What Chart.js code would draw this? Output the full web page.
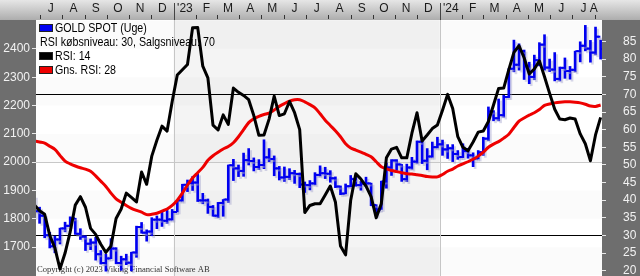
<!DOCTYPE html>
<html>
<head>
<meta charset="utf-8">
<script src="https://cdn.jsdelivr.net/npm/chart.js@4.4.1/dist/chart.umd.min.js"></script>
<style>
html, body { margin: 0; padding: 0; background: #fff; }
canvas { display: block; }
</style>
</head>
<body>
<canvas id="goldChart" width="640" height="276"></canvas>
<script>
// ugentlige guldpriser (USD), uge 24. jun 2022 .. 9. aug 2024
const weekOpen = [1860,1827,1811,1742,1703,1727,1766,1775,1802,1747, 1737,1712,1716,1675,1644,1660,1695,1644,1657,1645,
  1681,1771,1751,1755,1797,1797,1793,1798,1824,1865, 1920,1926,1928,1865,1865,1842,1811,1856,1868,1989,
  1978,1969,2007,2004,1983,1990,2017,2011,1978,1946, 1948,1961,1958,1921,1919,1925,1955,1961,1959,1943,
  1914,1889,1915,1940,1919,1924,1925,1849,1833,1932, 1981,2006,1992,1940,1981,2002,2072,2005,2020,2053,
  2063,2045,2049,2029,2018,2039,2024,2013,2035,2083, 2179,2155,2166,2230,2330,2344,2392,2338,2301,2360,
  2415,2334,2327,2294,2333,2322,2326,2392,2411,2401, 2387,2443];
const weekHigh = [1880,1841,1814,1752,1739,1767,1788,1807,1802,1765, 1740,1729,1735,1688,1675,1730,1698,1668,1675,1682,
  1774,1787,1761,1804,1810,1825,1833,1833,1865,1922, 1937,1949,1959,1890,1870,1847,1858,1868,1990,2010,
  1990,2032,2048,2015,2009,2079,2048,2022,1985,1983, 1977,1971,1962,1930,1935,1963,1987,1982,1970,1948,
  1916,1923,1953,1952,1932,1947,1926,1850,1933,1997, 2009,2009,1992,1993,2017,2075,2080,2048,2071,2088,
  2078,2062,2062,2041,2065,2049,2033,2041,2088,2195, 2182,2223,2236,2330,2431,2418,2396,2353,2378,2422,
  2450,2364,2387,2336,2368,2338,2392,2425,2483,2430, 2477,2431];
const weekLow = [1805,1784,1733,1697,1680,1711,1754,1773,1745,1727, 1688,1691,1654,1640,1615,1659,1641,1618,1638,1616,
  1664,1749,1721,1740,1765,1773,1784,1795,1824,1862, 1896,1900,1861,1853,1819,1809,1804,1809,1858,1935,
  1949,1950,1990,1969,1974,1977,2002,1952,1937,1932, 1938,1925,1910,1893,1902,1920,1951,1942,1929,1910,
  1885,1888,1913,1915,1901,1914,1846,1810,1833,1908, 1953,1971,1932,1931,1975,1996,1995,1973,2017,2050,
  2024,2013,2002,2010,2016,2014,1984,2011,2024,2076, 2146,2146,2159,2228,2319,2325,2292,2277,2291,2340,
  2325,2320,2287,2287,2296,2293,2319,2354,2393,2353, 2379,2364];
const weekClose = [1827,1811,1742,1703,1727,1766,1775,1802,1747,1737, 1712,1716,1675,1644,1660,1695,1644,1657,1645,1681,
  1771,1751,1755,1797,1797,1793,1798,1824,1865,1920, 1926,1928,1865,1865,1842,1811,1856,1868,1989,1978,
  1969,2007,2004,1983,1990,2017,2011,1978,1946,1948, 1961,1958,1921,1919,1925,1955,1961,1959,1943,1914,
  1889,1915,1940,1919,1924,1925,1849,1833,1932,1981, 2006,1992,1940,1981,2002,2072,2005,2020,2053,2063,
  2045,2049,2029,2018,2039,2024,2013,2035,2083,2179, 2155,2166,2230,2330,2344,2392,2338,2301,2360,2415,
  2334,2327,2294,2333,2322,2326,2392,2411,2401,2387, 2443,2400];

// RSI 14 og gennemsnit af RSI (28)
const rsi14 = [38.6,37,36,30,26.5,20.5,25,31,38.6,41, 38,32,30.3,27.5,25.2,27,34.8,37.5,42,40.8,
  39.5,48,44.5,52.5,57,61,59.6,68,75.5,77, 78.5,88.9,89,78,74.7,61.3,59.9,64.2,61.5,71.8,
  70.6,69.7,68.5,64,58.4,58.5,63,69.5,64,64.5, 68,64.8,60,36.5,38.5,39,39,41.5,44,39.5,
  27,24.5,40,47.5,46,44,41,35,39,52, 54.5,55,52,52,59,64.8,56.8,58.5,60.3,61.3,
  65.5,70,66,58,55,54,56.5,59.3,59.6,62.3, 67,71.7,71.8,77,81.9,83.8,80.4,75.8,77.2,79.5,
  75,70.3,65.8,63,62.8,63.3,63,58.8,56,51.2, 58.5,63.5];
const rsiAvg = [56.8,56.5,56.2,55.3,54.4,52.7,51.1,50.3,49.7,49.2, 48.8,48.2,46.9,45.4,43.9,42,40.4,39.4,38.5,37.7,
  37.1,36.6,35.9,36,36.3,36.9,37.5,38.5,40,42, 44.3,46.3,47.8,49.3,51.3,52.6,53.6,54.5,55.2,56.3,
  58,60,62,63.1,63.8,64.3,64.7,65.6,66.6,67.4, 68.1,68.5,68.5,67.9,67.1,66.2,64.5,62.7,61.2,59.7,
  58,56,54.8,54.2,53.6,53,52.3,50.9,49.5,48.9, 48.4,48.1,47.8,47.5,47.4,47.2,47,46.7,46.6,46.6,
  47.3,48.2,48.8,49.7,50.3,50.9,51.6,52.5,53.6,55, 55.9,56.6,57.6,58.7,60.6,62.4,63.3,64.1,64.8,65.7,
  66.9,67.3,67.6,67.8,67.9,67.9,67.8,67.6,67.2,66.7, 66.6,67];

const priceTicks = [1700, 1800, 1900, 2000, 2100, 2200, 2300, 2400];
const rsiTicks = [20, 25, 30, 35, 40, 45, 50, 55, 60, 65, 70, 75, 80, 85];
const monthLabels = ['J','A','S','O','N','D',"'23",'F','M','A','M','J','J','A','S','O','N','D',"'24",'F','M','A','M','J','J','A'];
const legendRows = [
  ['GOLD SPOT (Uge)', '#0000f0'],
  ['RSI købsniveau: 30, Salgsniveau: 70', null],
  ['RSI: 14', '#000000'],
  ['Gns. RSI: 28', '#ee0000']
];

// smal skrift hvis den findes, ellers klemmes Liberation Sans
function hasFont(name) {
  const c = document.createElement('canvas').getContext('2d');
  const s = 'GOLD SPOT (Uge) 2400';
  c.font = '20px monospace';
  const a = c.measureText(s).width;
  c.font = "20px '" + name + "', monospace";
  return c.measureText(s).width !== a;
}
const gotNarrow = hasFont('Liberation Sans Narrow');
const narrow = gotNarrow ? "'Liberation Sans Narrow', sans-serif" : "'Liberation Sans', Arial, sans-serif";
const axisSize = gotNarrow ? 13 : 12;
const squeeze = gotNarrow ? 1 : 0.82;
const blue = '#0000f0';

// uge-nummer (x) for en dato
const firstWeek = Date.UTC(2022, 5, 24);
const weekPos = t => (t - firstWeek) / (7 * 864e5);
const xMin = 0.3, xMax = 111.27;

const monthStart = [];
for (let k = 0; k <= monthLabels.length; k++) monthStart.push(weekPos(Date.UTC(2022, 6 + k, 1)));
const monthMid = monthLabels.map((_, k) => Math.min((monthStart[k] + monthStart[k + 1]) / 2, xMax - 1.6));

const noPad = s => { s.paddingTop = 0; s.paddingBottom = 0; s.paddingLeft = 0; s.paddingRight = 0; };

const decor = {
  id: 'decor',
  beforeDraw(chart) {
    const { ctx, chartArea: a, width, height } = chart;
    const x = chart.scales.x, yP = chart.scales.yP;
    ctx.save();
    ctx.fillStyle = '#ffffff';
    ctx.fillRect(a.left, a.top, a.width, a.height);
    const x23 = x.getPixelForValue(weekPos(Date.UTC(2023, 0, 1)));
    const x24 = x.getPixelForValue(weekPos(Date.UTC(2024, 0, 1)));
    ctx.fillStyle = '#f4f4f4';
    ctx.fillRect(x23, a.top, x24 - x23, a.height);
    ctx.fillStyle = 'rgba(0,0,0,0.015)';
    for (let p = 1600; p < 2500; p += 200) {
      const t = yP.getPixelForValue(p + 100), b = yP.getPixelForValue(p);
      ctx.fillRect(a.left, t, a.width, b - t);
    }
    ctx.fillStyle = '#6e6e6e';
    ctx.fillRect(0, a.top, a.left, height - a.top);
    ctx.fillRect(a.right, a.top, width - a.right, height - a.top);
    const g = ctx.createLinearGradient(0, 0, 0, a.top);
    g.addColorStop(0, '#e6e6e6');
    g.addColorStop(1, '#adadad');
    ctx.fillStyle = g;
    ctx.fillRect(0, 0, width, a.top);
    ctx.restore();
  },
  beforeDatasetsDraw(chart) {
    const { ctx, chartArea: a } = chart;
    const x = chart.scales.x;
    ctx.save();
    ctx.lineWidth = 1;
    // måneds-streger i toppen
    ctx.strokeStyle = '#333';
    monthStart.forEach(v => {
      const px = Math.round(x.getPixelForValue(v)) + 0.5;
      if (px < a.left || px > a.right) return;
      ctx.beginPath();
      ctx.moveTo(px, a.top - 5);
      ctx.lineTo(px, a.top - 1);
      ctx.stroke();
    });
    // årsskift
    [Date.UTC(2023, 0, 1), Date.UTC(2024, 0, 1)].forEach(t => {
      const px = Math.round(x.getPixelForValue(weekPos(t))) + 0.5;
      ctx.strokeStyle = '#444';
      ctx.beginPath(); ctx.moveTo(px, 3); ctx.lineTo(px, a.top); ctx.stroke();
      ctx.strokeStyle = '#c6c6c6';
      ctx.beginPath(); ctx.moveTo(px, a.top); ctx.lineTo(px, a.bottom); ctx.stroke();
    });
    // signaturforklaring
    ctx.font = '13px ' + narrow;
    ctx.textBaseline = 'middle';
    legendRows.forEach(([text, color], r) => {
      const cy = a.top + 8 + r * 14;
      let tx = a.left + 4;
      if (color) {
        ctx.fillStyle = color;
        ctx.fillRect(a.left + 3, cy - 4, 14, 8);
        ctx.strokeStyle = '#222';
        ctx.strokeRect(a.left + 3.5, cy - 3.5, 13, 7);
        tx = a.left + 19;
      }
      ctx.save();
      ctx.translate(tx, cy);
      ctx.scale(squeeze, 1);
      ctx.fillStyle = '#000';
      ctx.fillText(text, 0, 0);
      ctx.restore();
    });
    ctx.font = "8.6px 'Liberation Serif', serif";
    ctx.fillStyle = '#333';
    ctx.fillText('Copyright (c) 2023 Viking Financial Software AB', a.left + 1, a.bottom - 6);
    ctx.restore();
  }
};

const shade = {
  id: 'shade',
  beforeDatasetDraw(chart, args) {
    if (!chart.data.datasets[args.index].shadow) return;
    const ctx = chart.ctx;
    ctx.save();
    ctx.shadowColor = 'rgba(150,150,200,0.38)';
    ctx.shadowOffsetX = 2;
    ctx.shadowOffsetY = 2;
    ctx.shadowBlur = 0;
  },
  afterDatasetDraw(chart, args) {
    if (!chart.data.datasets[args.index].shadow) return;
    chart.ctx.restore();
  }
};

new Chart(document.getElementById('goldChart'), {
  type: 'bar',
  data: {
    datasets: [
      {
        type: 'line', label: 'RSI: 14', yAxisID: 'yR',
        data: rsi14.map((v, i) => ({ x: i, y: v })),
        borderColor: '#000', borderWidth: 3, pointRadius: 0, tension: 0,
        borderJoinStyle: 'round', order: 0
      },
      {
        type: 'line', label: 'Gns. RSI: 28', yAxisID: 'yR',
        data: rsiAvg.map((v, i) => ({ x: i, y: v })),
        borderColor: '#ee0000', borderWidth: 3, pointRadius: 0, tension: 0.3,
        borderJoinStyle: 'round', order: 1
      },
      {
        type: 'line', label: 'open', yAxisID: 'yP', showLine: false, shadow: true,
        data: weekOpen.map((v, i) => ({ x: i - 0.35, y: v })),
        pointStyle: 'line', pointRadius: 1.5, pointBorderWidth: 2, borderColor: blue, order: 2
      },
      {
        type: 'line', label: 'close', yAxisID: 'yP', showLine: false, shadow: true,
        data: weekClose.map((v, i) => ({ x: i + 0.35, y: v })),
        pointStyle: 'line', pointRadius: 1.5, pointBorderWidth: 2, borderColor: blue, order: 2
      },
      {
        type: 'bar', label: 'GOLD SPOT (Uge)', yAxisID: 'yP', shadow: true,
        data: weekHigh.map((h, i) => ({ x: i, y: [weekLow[i], h] })),
        backgroundColor: blue, barThickness: 2, grouped: false, order: 3
      }
    ]
  },
  options: {
    responsive: false,
    animation: false,
    events: [],
    layout: { padding: 0, autoPadding: false },
    plugins: { legend: { display: false }, tooltip: { enabled: false } },
    scales: {
      x: {
        type: 'linear', position: 'top', min: xMin, max: xMax, offset: false,
        grid: { display: false, drawTicks: false },
        border: { display: false },
        afterBuildTicks: s => { s.ticks = monthMid.map(v => ({ value: v })); },
        afterFit: s => { s.height = 20; noPad(s); },
        ticks: {
          autoSkip: false, maxRotation: 0, padding: 4, color: '#1a1a1a',
          font: { family: narrow, size: axisSize },
          callback: (v, i) => monthLabels[i]
        }
      },
      yP: {
        axis: 'y', type: 'linear', position: 'left', min: 1598, max: 2502,
        afterBuildTicks: s => { s.ticks = priceTicks.map(v => ({ value: v })); },
        afterFit: s => { s.width = 36; noPad(s); },
        grid: {
          color: c => (c.tick && c.tick.value === 2000) ? '#c8c8c8' : 'rgba(0,0,0,0)',
          tickColor: '#e8e8e8', tickLength: 4
        },
        border: { display: false },
        ticks: {
          autoSkip: false, color: '#f2f2f2', padding: 2,
          font: { family: narrow, size: axisSize },
          callback: v => String(v)
        }
      },
      yR: {
        axis: 'y', type: 'linear', position: 'right', min: 18.5, max: 91.1,
        afterBuildTicks: s => { s.ticks = rsiTicks.map(v => ({ value: v })); },
        afterFit: s => { s.width = 38; noPad(s); },
        grid: {
          color: c => (c.tick && (c.tick.value === 70 || c.tick.value === 30)) ? '#000' : 'rgba(0,0,0,0)',
          tickColor: '#e8e8e8', tickLength: 4
        },
        border: { display: false },
        ticks: {
          autoSkip: false, color: '#f2f2f2', padding: 17,
          font: { family: narrow, size: axisSize },
          callback: v => String(v)
        }
      }
    }
  },
  plugins: [decor, shade]
});
</script>
</body>
</html>
